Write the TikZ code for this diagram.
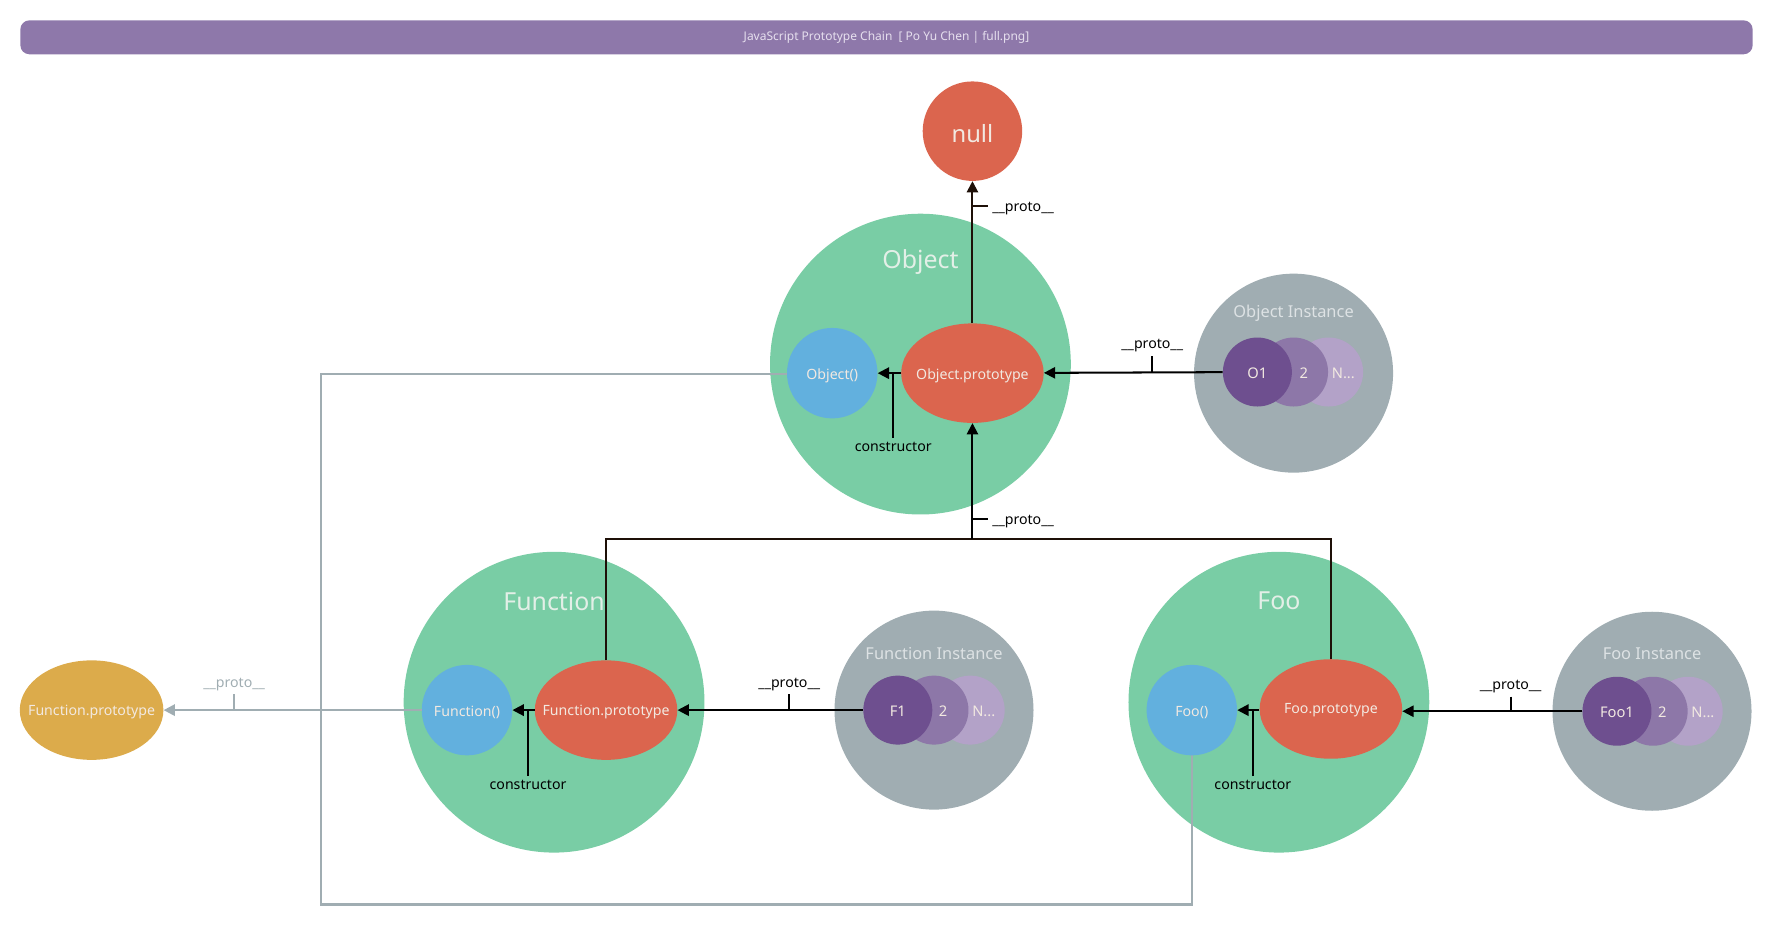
\documentclass[tikz,border=0pt]{standalone}
\usepackage{fontspec}
\setmainfont{Noto Sans}
\usetikzlibrary{arrows.meta,shapes.geometric,calc}
\definecolor{ctitle}{HTML}{8E78AA}
\definecolor{ctitletext}{HTML}{E6DFEE}
\definecolor{cgreen}{HTML}{79CDA5}
\definecolor{cgreentext}{HTML}{E3EFE7}
\definecolor{cred}{HTML}{DB654E}
\definecolor{cblue}{HTML}{62B0DE}
\definecolor{cyellow}{HTML}{DCAB4B}
\definecolor{cgray}{HTML}{A0ADB2}
\definecolor{cpdark}{HTML}{6E4F8F}
\definecolor{cpmid}{HTML}{8D77A8}
\definecolor{cplight}{HTML}{B3A2C8}
\definecolor{ctxt}{HTML}{F2E9E1}
\definecolor{cinst}{HTML}{DDE2E4}
\definecolor{cdark}{HTML}{1E1008}
\begin{document}
\begin{tikzpicture}[x=1pt,y=-1pt,
  blob/.style={ellipse,inner sep=0pt,draw=none},
  bigc/.style={blob,fill=cgreen,minimum width=266pt,minimum height=266pt},
  biglabel/.style={text=cgreentext,font=\fontsize{22}{26}\selectfont,yshift=-2pt},
  instc/.style={blob,fill=cgray,minimum width=176pt,minimum height=176pt},
  instlabel/.style={text=cinst,font=\fontsize{14.5}{17}\selectfont,yshift=-2pt},
  fnc/.style={blob,fill=cblue,minimum width=80pt,minimum height=80pt},
  protoc/.style={blob,fill=cred,minimum width=126pt,minimum height=88pt},
  ntxt/.style={text=ctxt,font=\fontsize{12.5}{15}\selectfont,inner sep=0pt,yshift=-2pt},
  pc/.style={blob,minimum width=61pt,minimum height=61pt},
  itxt/.style={text=ctxt,font=\fontsize{13}{15}\selectfont},
  ptxt/.style={itxt,yshift=-1pt},
  lbl/.style={text=black,font=\fontsize{12.5}{15}\selectfont,yshift=-2pt},
  glbl/.style={text=cgray,font=\fontsize{12.5}{15}\selectfont,yshift=-2pt},
  bline/.style={draw=black,line width=1.8pt},
  dline/.style={draw=cdark,line width=1.8pt},
  barr/.style={bline,-{Triangle[length=10pt,width=10pt]}},
  gline/.style={draw=cgray,line width=2pt},
  garr/.style={gline,-{Triangle[length=10pt,width=10pt]}}
]
\useasboundingbox (0,0) rectangle (1568,820);
% title
\node[fill=ctitle,rounded corners=8pt,minimum width=1532pt,minimum height=30pt,inner sep=0pt,
      text=ctitletext,font=\fontsize{10.6}{12}\selectfont] (title) at (784,33)
      {JavaScript Prototype Chain\ \ [ Po Yu Chen | full.png]};

% big circles
\node[bigc] (objc) at (814,322) {};
\node[biglabel] (objl) at (814,230) {Object};
\node[bigc] (func) at (490,621) {};
\node[biglabel] (funl) at (490,530) {Function};
\node[bigc] (fooc) at (1131,621) {};
\node[biglabel] (fool) at (1131,529) {Foo};

% instance circles
\node[instc] (oinst) at (1144,330) {};
\node[instlabel] (oinstl) at (1144,275) {Object Instance};
\node[pc,fill=cplight] (on) at (1175,329) {};
\node[pc,fill=cpmid] (o2) at (1144,329) {};
\node[pc,fill=cpdark] (o1) at (1112,329) {};
\node[ptxt] (o1t) at (o1) {O1};
\node[ptxt] (o2t) at (1153,329) {2};
\node[ptxt] (ont) at (1188,329) {N...};

\node[instc] (finst) at (826,628) {};
\node[instlabel] (finstl) at (826,576) {Function Instance};
\node[pc,fill=cplight] (fn) at (858,628) {};
\node[pc,fill=cpmid] (f2) at (826,628) {};
\node[pc,fill=cpdark] (f1) at (794,628) {};
\node[ptxt] (f1t) at (f1) {F1};
\node[ptxt] (f2t) at (834,628) {2};
\node[ptxt] (fnt) at (870,628) {N...};

\node[instc] (fooinst) at (1461,629) {};
\node[instlabel] (fooinstl) at (1461,576) {Foo Instance};
\node[pc,fill=cplight] (foon) at (1493,629) {};
\node[pc,fill=cpmid] (foo2) at (1462,629) {};
\node[pc,fill=cpdark] (foo1) at (1430,629) {};
\node[ptxt] (foo1t) at (foo1) {Foo1};
\node[ptxt] (foo2t) at (1470,629) {2};
\node[ptxt] (foont) at (1506,629) {N...};

% null and function.prototype (yellow)
\node[blob,fill=cred,minimum width=88pt,minimum height=88pt] (null) at (860,116) {};
\node[text=ctxt,font=\fontsize{21}{25}\selectfont,yshift=-2pt] (nullt) at (null) {null};
\node[blob,fill=cyellow,minimum width=127pt,minimum height=88pt] (fpy) at (81,628) {};
\node[ntxt] (fpyt) at (fpy) {Function.prototype};

% gray connectors
\coordinate (g2) at (284,800);
\draw[gline] (736,331) ++(-40,0) coordinate (objfnw) -- (objfnw -| g2) -- (g2) -| (1054,628);
\node[fnc] (funcfn) at (413,628) {};
\node[ntxt] (funcfnt) at (funcfn) {Function()};
\draw[garr] (funcfn) -- (fpy);
\node[glbl] (gpl) at (207,603) {\_\_proto\_\_};
\draw[gline,line width=1.5pt] (gpl.south) -- (gpl.south |- funcfn.west);

% inner nodes
\node[fnc] (objfn) at (736,330) {};
\node[ntxt] (objfnt) at (objfn) {Object()};
\node[protoc] (objproto) at (860,330) {};
\node[ntxt] (objprotot) at (objproto) {Object.prototype};
\node[protoc] (funcproto) at (536,628) {};
\node[ntxt] (funcprotot) at (funcproto) {Function.prototype};
\node[fnc] (foofn) at (1054,628) {};
\node[ntxt] (foofnt) at (foofn) {Foo()};
\node[protoc] (fooproto) at (1177,627) {};
\node[ntxt] (fooprotot) at ($(fooproto)+(0,-1)$) {Foo.prototype};

% instance __proto__ arrows
\draw[barr] (o1) -- (objproto);
\node[lbl] (pl1) at (1019,304) {\_\_proto\_\_};
\draw[bline,line width=1.5pt] (pl1.south) -- (pl1.south |- o1.west);

\draw[barr] (f1) -- (funcproto);
\node[lbl] (pl3) at (698,603) {\_\_proto\_\_};
\draw[bline,line width=1.5pt] (pl3.south) -- (pl3.south |- f1.west);

\draw[barr] (foo1) -- (fooproto.east |- foo1.west);
\node[lbl] (pl4) at (1336,605) {\_\_proto\_\_};
\draw[bline,line width=1.5pt] (pl4.south) -- (pl4.south |- foo1.west);

% Object.prototype -> null
\draw[dline,-{Triangle[length=10pt,width=10pt]}] (objproto) -- (null);
\coordinate (t1) at (860,182);
\node[lbl,anchor=west] (pl2) at (874,182) {\_\_proto\_\_};
\draw[dline,line width=1.5pt] (t1) -- (t1 -| pl2.west);

% prototypes -> Object.prototype
\coordinate (join) at (860,477);
\draw[dline] (funcproto) |- (join);
\draw[dline] (fooproto) |- (join);
\draw[barr] (join) -- (objproto);
\coordinate (t2) at (860,459);
\node[lbl,anchor=west] (pl5) at (874,459) {\_\_proto\_\_};
\draw[bline,line width=1.5pt] (t2) -- (t2 -| pl5.west);

% constructors
\draw[barr] (objproto) -- (objfn);
\node[lbl] (c1) at (790,393) {constructor};
\draw[bline,line width=1.5pt] (c1.north) -- (c1.north |- objproto.west);

\draw[barr] (funcproto) -- (funcfn);
\node[lbl] (c2) at (467,692) {constructor};
\draw[bline,line width=1.5pt] (c2.north) -- (c2.north |- funcproto.west);

\draw[barr] (fooproto.west |- foofn.east) -- (foofn);
\node[lbl] (c3) at (1108,692) {constructor};
\draw[bline,line width=1.5pt] (c3.north) -- (c3.north |- foofn.east);
\end{tikzpicture}
\end{document}
